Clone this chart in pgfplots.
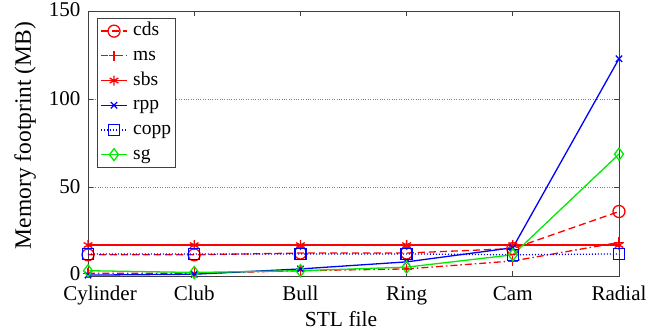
\documentclass[border=0pt]{standalone}
\usepackage{fontspec}
\setmainfont{Liberation Serif}
\usepackage{pgfplots}
\pgfplotsset{compat=1.18}
\definecolor{mred}{RGB}{255,0,0}
\definecolor{mblue}{RGB}{0,0,255}
\definecolor{mgreen}{RGB}{0,235,0}
\begin{document}
\begin{tikzpicture}
\begin{axis}[
  scale only axis, width=531bp, height=265bp,
  xmin=0, xmax=5, ymin=0, ymax=150,
  xtick={0,1,2,3,4,5},
  xticklabels={\hspace*{24bp}Cylinder,Club,Bull,Ring,Cam,Radial},
  ytick={0,50,100,150},
  yticklabels={\raisebox{3bp}{0},50,100,150},
  tick align=inside, xtick pos=both, ytick pos=both,
  major tick length=5bp,
  ymajorgrids, major grid style={dotted, gray, line width=0.8bp},
  axis line style={black!75, line width=0.8bp},
  tick style={black!75, line width=0.8bp},
  tick label style={font=\fontsize{21bp}{25bp}\selectfont},
  xticklabel style={anchor=base, yshift=-24bp},
  yticklabel style={xshift=-4bp, yshift=1bp},
  /pgf/number format/assume math mode=true,
  xlabel={STL file}, ylabel={Memory footprint (MB)},
  xlabel style={font=\fontsize{21.5bp}{25bp}\selectfont, at={(axis description cs:0.4765,-0.1887)}, anchor=base},
  ylabel style={font=\fontsize{23.5bp}{27bp}\selectfont, at={(axis description cs:-0.1186,0.53)}, anchor=center},
  legend style={at={(axis description cs:0,1)}, anchor=north west,
    xshift=9bp, yshift=-7bp, draw=black!75, line width=0.8bp,
    font=\fontsize{19.5bp}{22bp}\selectfont, cells={anchor=west},
    inner xsep=3bp, inner ysep=2bp, row sep=3.2bp,
    nodes={inner sep=1.5bp, text height=14bp, text depth=4.5bp},
    /tikz/every odd column/.append style={column sep=4bp}},
  legend image code/.code={\draw[mark repeat=2,mark phase=2] plot coordinates {(0bp,0bp) (13bp,0bp) (26bp,0bp)};},
  every axis plot/.append style={line width=1.3bp},
]
\addplot[mred, dash pattern=on 7bp off 4bp, mark=o, mark size=6bp, mark options={solid}] coordinates {(0,12) (1,12) (2,13) (3,13) (4,15.5) (5,36.5)};
\addplot[mred, dash pattern=on 7bp off 3bp on 1.5bp off 3bp, mark=+, mark size=5bp, mark options={solid}] coordinates {(0,1.5) (1,1.5) (2,3) (3,4) (4,8.5) (5,19)};
\addplot[mred, solid, mark=asterisk, mark size=5bp] coordinates {(0,17.5) (1,17.5) (2,17.5) (3,17.5) (4,17.5) (5,17.5)};
\addplot[mblue, solid, mark=x, mark size=4.5bp] coordinates {(0,0.5) (1,1) (2,4) (3,8) (4,16) (5,123)};
\addplot[mblue, dash pattern=on 1bp off 2bp, mark=square, mark size=5.5bp, mark options={solid}] coordinates {(0,12.5) (1,12.5) (2,12.5) (3,12.5) (4,12) (5,12.5)};
\addplot[mgreen, solid, mark=diamond, mark size=6bp] coordinates {(0,3) (1,2) (2,3) (3,5) (4,12) (5,69)};
\legend{cds,ms,sbs,rpp,copp,sg}
\coordinate (ll) at (rel axis cs:0,0);
\end{axis}
\pgfresetboundingbox
\useasboundingbox (ll) ++(-88bp,-59bp) rectangle ++(662bp,335bp);
\end{tikzpicture}
\end{document}
